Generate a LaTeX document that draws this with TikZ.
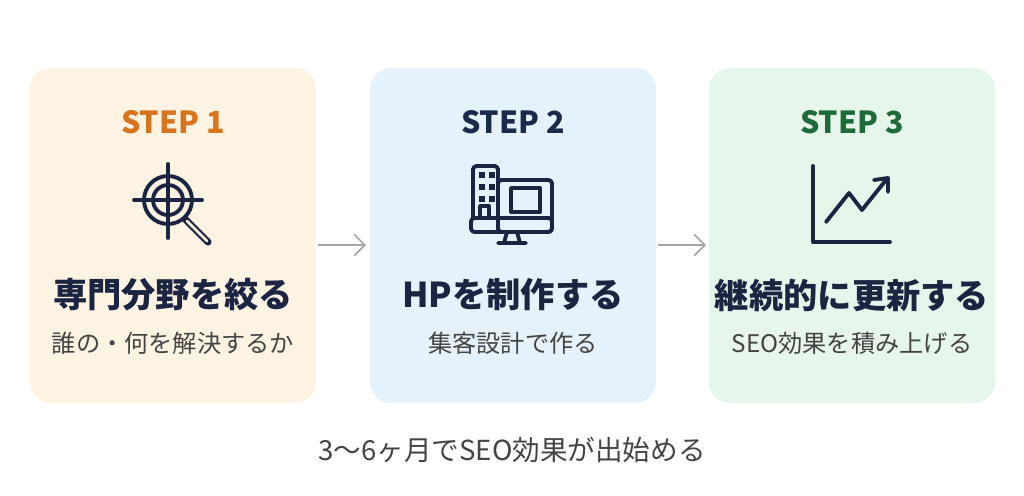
\documentclass[tikz,border=0pt]{standalone}
\usepackage{fontspec}
\setmainfont{Noto Sans CJK JP}
\usetikzlibrary{arrows.meta}
\definecolor{cardA}{HTML}{FDF3E3}
\definecolor{cardB}{HTML}{E6F2FB}
\definecolor{cardC}{HTML}{E6F6EA}
\definecolor{stepA}{HTML}{D9731C}
\definecolor{stepB}{HTML}{1B2A4A}
\definecolor{stepC}{HTML}{1E6B3A}
\definecolor{ink}{HTML}{1B2440}
\definecolor{sub}{HTML}{444444}
\tikzset{
  card/.style={rounded corners=12pt, draw=none},
  steplbl/.style={font=\fontsize{17.3}{19}\selectfont\bfseries},
  title/.style={font=\fontsize{19.5}{22}\selectfont\bfseries, text=ink},
  subt/.style={font=\fontsize{13.8}{16}\selectfont, text=sub},
  icon/.style={draw=ink, line width=2.2pt, line cap=round, line join=round},
  flow/.style={draw=gray!70, line width=1pt, -{Straight Barb[length=6pt,width=12pt]}}
}
\begin{document}
\begin{tikzpicture}[x=0.02cm, y=-0.02cm]
  \useasboundingbox (0,0) rectangle (1024,495);

  %cards
  \foreach \x/\c/\n in {30/cardA/cA, 370/cardB/cB, 709/cardC/cC}{
    \fill[card, \c] (\x,68) rectangle (\x+286,403);
    \coordinate (\n) at (\x+143,0);
  }

  %labels
  \foreach \n/\c/\s/\t/\u in {cA/stepA/1/専門分野を絞る/誰の・何を解決するか,
                              cB/stepB/2/HPを制作する/集客設計で作る,
                              cC/stepC/3/継続的に更新する/SEO効果を積み上げる}{
    \node[steplbl, text=\c] (\n s) at ([yshift=-122*0.02cm]\n) {STEP \s};
    \node[title] (\n t) at ([yshift=-295*0.02cm]\n) {\t};
    \node[subt] (\n u) at ([yshift=-343*0.02cm]\n) {\u};
  }

  %flow arrows
  \coordinate (a1) at (318,245); \coordinate (a2) at (366,245);
  \coordinate (a3) at (658,245); \coordinate (a4) at (706,245);
  \draw[flow] (a1) -- (a2);
  \draw[flow] (a3) -- (a4);

  %icon 1
  \draw[icon] (168,200) circle (24);
  \draw[icon] (168,200) circle (15);
  \draw[icon] (134,200) -- (202,200) (168,164) -- (168,238);
  \draw[icon, line width=4pt] (186,220) -- (208,242);
  \draw[draw=cardA, line width=1.6pt, line cap=round] (187,221) -- (207,241);

  %icon 2
  \draw[icon, rounded corners=2pt] (473,218) -- (473,166) -- (498,166) -- (498,218);
  \draw[icon, rounded corners=2pt] (498,180) rectangle (552,232);
  \draw[icon, rounded corners=2pt] (471,218) rectangle (552,232);
  \draw[icon] (511,188) rectangle (540,212);
  \foreach \yy in {172,184,196}{
    \fill[ink] (479,\yy) rectangle (485,\yy+6);
    \fill[ink] (489,\yy) rectangle (495,\yy+6);
  }
  \draw[icon] (480,218) -- (480,206) -- (489,206) -- (489,218);
  \draw[icon] (507,232) -- (504,243) (517,232) -- (520,243) (498,243) -- (526,243);

  %icon 3
  \draw[icon] (813,166) -- (813,242) -- (890,242);
  \draw[icon] (826,222) -- (849,193) -- (862,210) -- (886,180);
  \draw[icon] (874,180) -- (888,178) -- (888,192);

  %note
  \node[font=\fontsize{15.7}{18}\selectfont, text=sub] (note) at (512,450) {3〜6ヶ月でSEO効果が出始める};
\end{tikzpicture}
\end{document}
